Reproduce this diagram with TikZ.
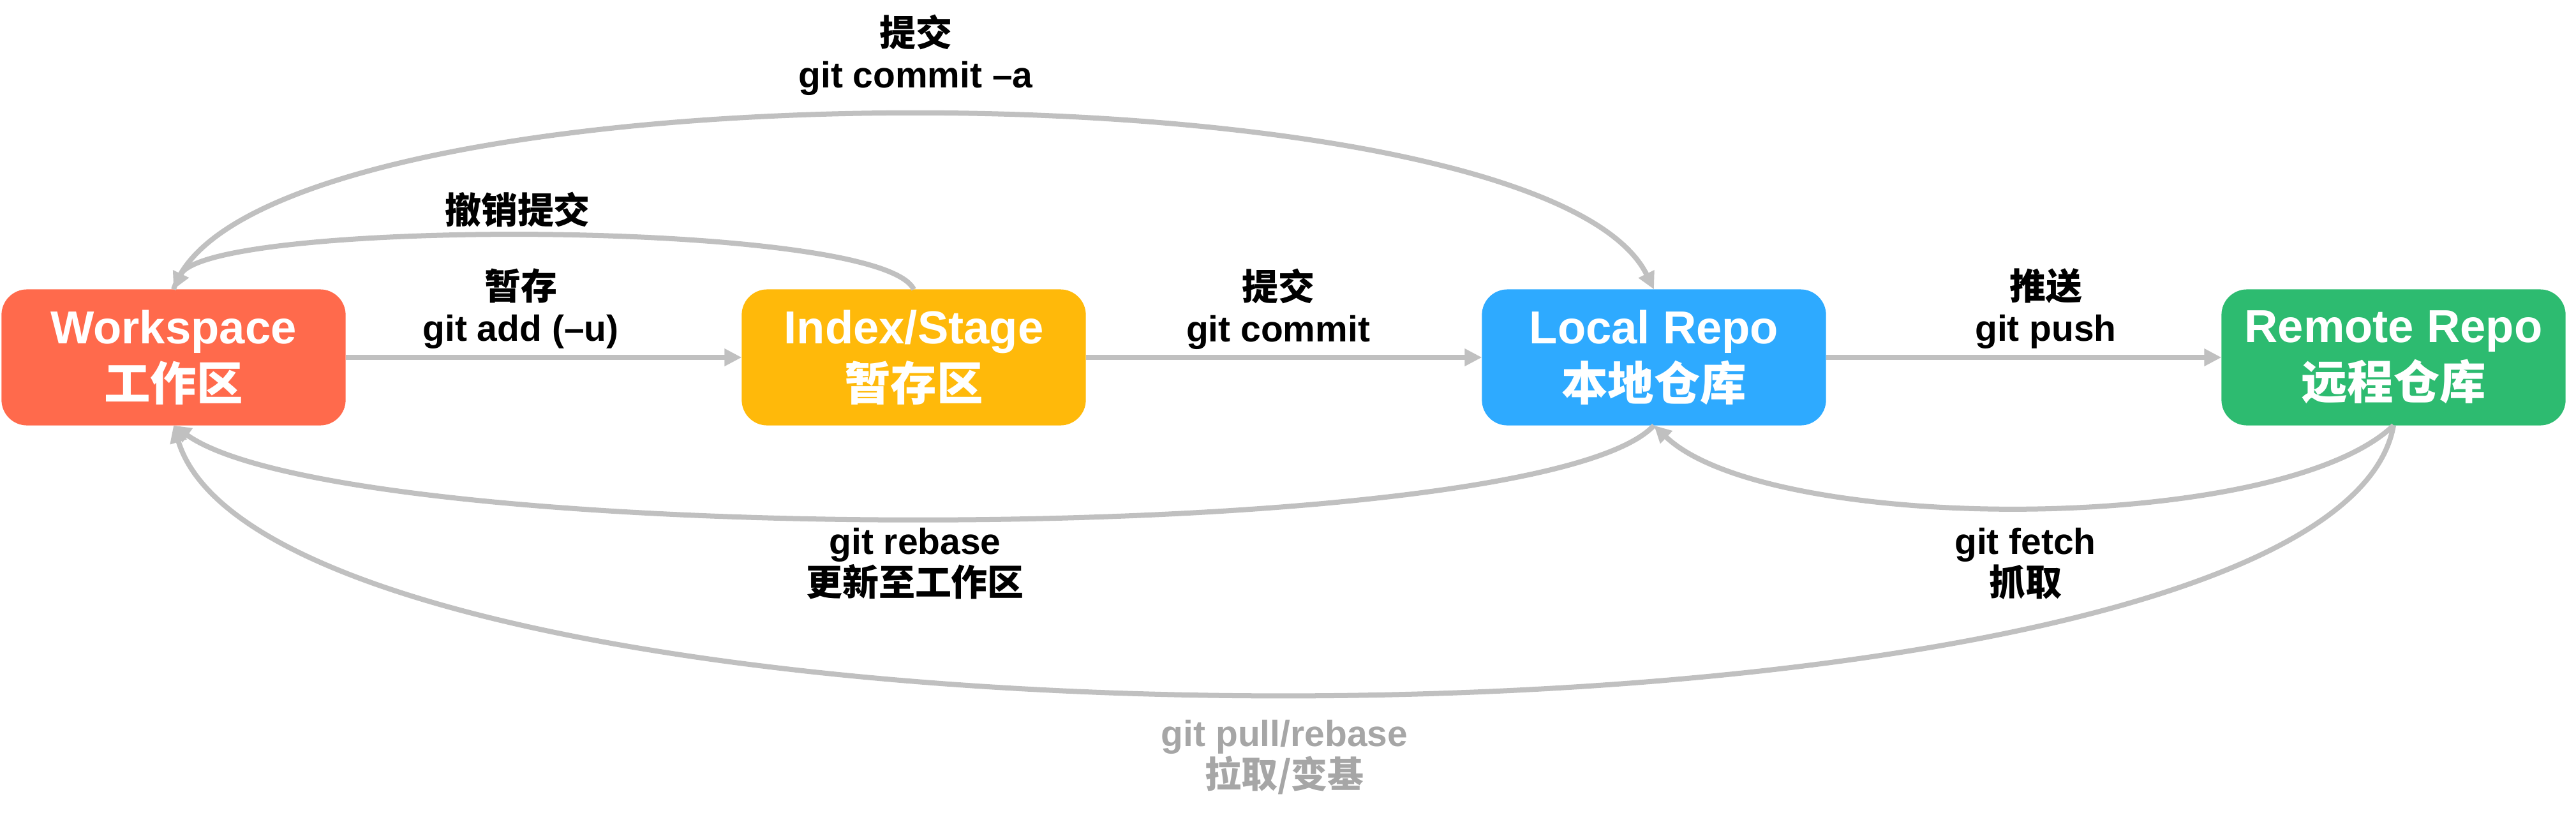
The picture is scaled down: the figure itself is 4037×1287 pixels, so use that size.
\documentclass[tikz,border=0pt]{standalone}
\usepackage{fontspec}
\setmainfont{Liberation Sans}
\newfontfamily\cjk{Noto Sans CJK SC}
\usetikzlibrary{arrows.meta}

\definecolor{wsred}{HTML}{FF6A4C}
\definecolor{idxyellow}{HTML}{FFB90A}
\definecolor{locblue}{HTML}{2EAAFF}
\definecolor{remgreen}{HTML}{2DBB70}
\definecolor{linegray}{HTML}{C0C0C0}
\definecolor{pullgray}{HTML}{A6A6A6}

\tikzset{
  repo/.style={rounded corners=4mm, minimum width=5.39cm, minimum height=2.13cm,
    inner sep=0pt, outer sep=0pt, text=white, align=center,
    font=\fontsize{20.6pt}{25.3pt}\selectfont\bfseries},
  lbl/.style={align=center, font=\fontsize{16.2pt}{18.5pt}\selectfont\bfseries},
  flow/.style={draw=linegray, line width=0.8mm, -{Triangle[length=2.7mm, width=2.6mm]}}
}

\begin{document}
\begin{tikzpicture}[x=0.01cm, y=-0.01cm]
\useasboundingbox (0,0) rectangle (4037,1287);

% Repositories
\foreach \nm/\x/\col/\en/\zh in {ws/272/wsred/Workspace/工作区,
    idx/1432/idxyellow/{Index/Stage}/暂存区,
    loc/2592/locblue/Local Repo/本地仓库,
    rem/3751/remgreen/Remote Repo/远程仓库}
  \node[repo, fill=\col] (\nm) at (\x,560) {\en\\{\cjk \zh}};

% Forward steps
\foreach \a/\b in {ws/idx, idx/loc, loc/rem}
  \draw[flow] (\a.east) -- (\b.west);

% Curved moves
\draw[flow] (ws.north) .. controls +(120,-365) and +(-180,-365) .. (loc.north);
\draw[flow] (idx.north) .. controls +(-53,-111) and +(53,-111) .. (ws.north);
\draw[flow] (loc.south) .. controls +(-180,195) and +(273,195) .. (ws.south);
\draw[flow] (rem.south) .. controls +(-180,172) and +(180,172) .. (loc.south);
\draw[flow] (rem.south) .. controls +(-100,561) and +(170,561) .. (ws.south);

% Labels
\node[lbl] (tadd) at (816,484) {{\cjk 暂存}\\git add (–u)};
\node[lbl] (tcommit) at (2003,484) {{\cjk 提交}\\git commit};
\node[lbl] (tpush) at (3206,484) {{\cjk 推送}\\git push};
\node[lbl] (trevert) at (811,328) {\cjk 撤销提交};
\node[lbl] (tcommita) at (1435,86) {{\cjk 提交}\\git commit –a};
\node[lbl] (trebase) at (1434,883) {git rebase\\{\cjk 更新至工作区}};
\node[lbl] (tfetch) at (3174,883) {git fetch\\{\cjk 抓取}};
\node[lbl, text=pullgray] (tpull) at (2013,1187) {git pull/rebase\\{\cjk 拉取/变基}};
\end{tikzpicture}
\end{document}
